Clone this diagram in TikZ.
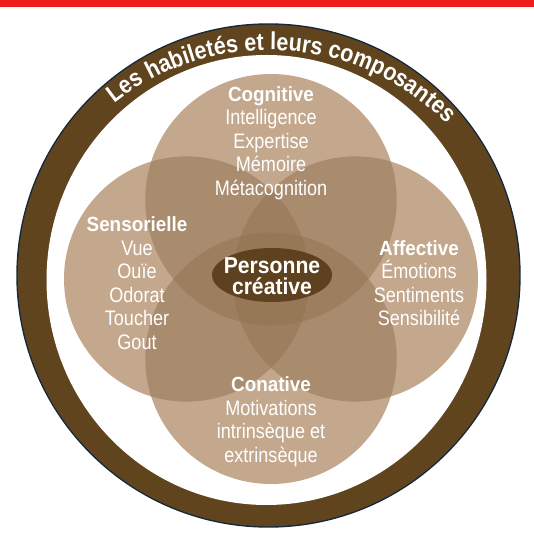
\documentclass[tikz,border=0pt]{standalone}
\usepackage{fontspec}
\setmainfont{Liberation Sans}[FakeStretch=0.86]
\newfontfamily\headfont{Liberation Sans}[FakeStretch=0.92]
\newfontfamily\titlefont{Liberation Sans}[FakeStretch=0.88]
\usetikzlibrary{decorations.text}
\definecolor{redbar}{HTML}{EE1C1C}
\definecolor{ringbrown}{HTML}{60441E}
\definecolor{ringnavy}{HTML}{14263A}
\definecolor{lobeA}{HTML}{C3A88D}
\definecolor{lobeB}{HTML}{A98B6D}
\definecolor{lobeC}{HTML}{9D7E5E}
\definecolor{lobeD}{HTML}{967756}
\definecolor{coreb}{HTML}{5E421F}
\newcommand{\hd}[1]{{\headfont\bfseries\fontsize{20.5}{23.5}\selectfont #1}}
\begin{document}
\begin{tikzpicture}[x=1pt,y=1pt,
  lbl/.style={text=white, align=center, inner sep=0pt, font=\fontsize{21}{23.5}\selectfont},
  corelbl/.style={text=white, align=center, inner sep=0pt,
     font=\headfont\bfseries\fontsize{23}{21}\selectfont}]
\useasboundingbox (0,0) rectangle (534,544);
\fill[redbar] (0,536.5) rectangle (534,544);
% ring
\coordinate (rc) at (268.5,268.5);
\coordinate (ic) at (266.5,264);
\coordinate (tc) at (269,244);
\fill[ringnavy] (rc) circle[radius=252.2];
\fill[ringbrown] (rc) circle[radius=250.8];
\fill[white] (ic) ellipse[x radius=220, y radius=225];
% lobes
\def\cT{(271,344.3) circle[radius=125.7]}
\def\cB{(271,185.7) circle[radius=125.7]}
\def\cL{(186.6,265) circle[radius=122.6]}
\def\cR{(355.4,265) circle[radius=122.6]}
\fill[lobeA] \cT; \fill[lobeA] \cB; \fill[lobeA] \cL; \fill[lobeA] \cR;
\begin{scope}\clip \cT; \fill[lobeB] \cL; \fill[lobeB] \cR; \fill[lobeB] \cB; \end{scope}
\begin{scope}\clip \cB; \fill[lobeB] \cL; \fill[lobeB] \cR; \end{scope}
\begin{scope}\clip \cL; \fill[lobeB] \cR; \end{scope}
\begin{scope}\clip \cT; \clip \cL; \fill[lobeC] \cR; \fill[lobeC] \cB; \end{scope}
\begin{scope}\clip \cB; \clip \cL; \fill[lobeC] \cR; \end{scope}
\begin{scope}\clip \cT; \clip \cB; \fill[lobeC] \cR; \end{scope}
\begin{scope}\clip \cT; \clip \cB; \clip \cL; \fill[lobeD] \cR; \end{scope}
% title along the ring
\path[decorate, decoration={text along path, text align=center, text color=white,
  text={|\titlefont\bfseries\fontsize{24.5}{28}\selectfont|Les habiletés et leurs composantes}}]
  ([shift={(130:250)}]tc) arc[start angle=130, end angle=43, radius=250];
% core ellipse
\coordinate (corec) at (272,269);
\fill[coreb] (corec) ellipse[x radius=60, y radius=27];
% labels
\node[lbl] (cog) at (271,401) {\hd{Cognitive}\\Intelligence\\Expertise\\Mémoire\\Métacognition};
\node[lbl] (sen) at (137,261) {\hd{Sensorielle}\\Vue\\Ouïe\\Odorat\\Toucher\\Gout};
\node[lbl] (aff) at (419,261) {\hd{Affective}\\Émotions\\Sentiments\\Sensibilité};
\node[lbl] (con) at (271,122) {\hd{Conative}\\Motivations\\intrinsèque et\\extrinsèque};
\node[corelbl] (core) at (272,267.5) {Personne\\créative};
\end{tikzpicture}
\end{document}
